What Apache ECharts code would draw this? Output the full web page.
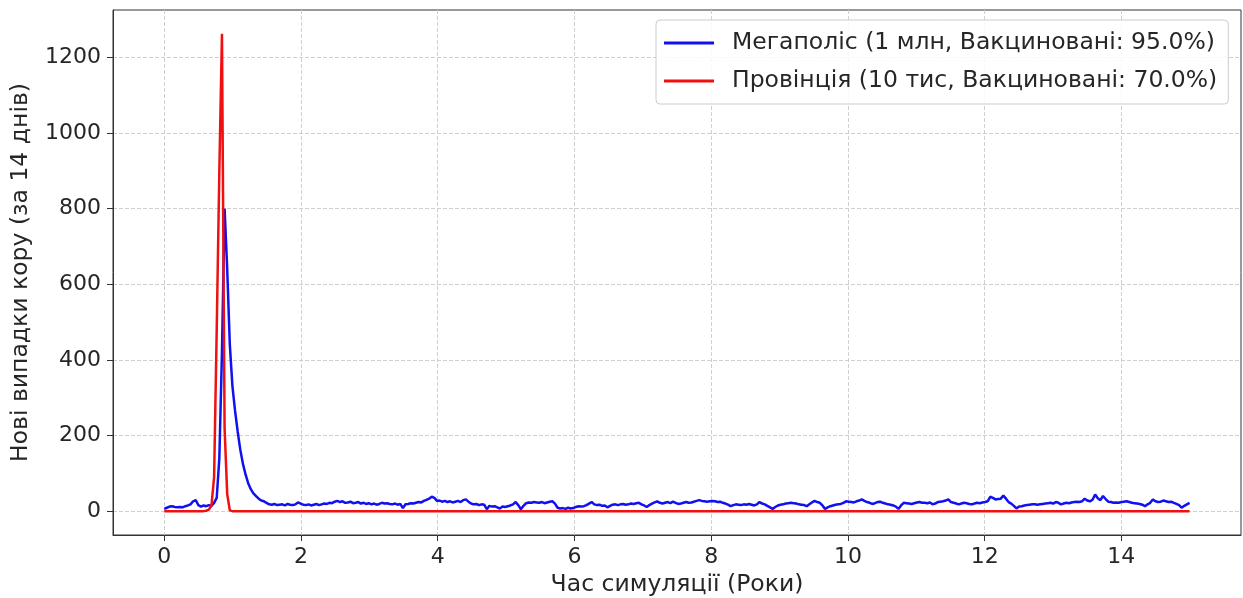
<!DOCTYPE html>
<html>
<head>
<meta charset="utf-8">
<title>Нові випадки кору</title>
<script src="https://cdn.jsdelivr.net/npm/echarts@6/dist/echarts.min.js"></script>
<style>
  html, body { margin: 0; padding: 0; background: #ffffff; }
  #chart { width: 1243px; height: 598px; }
</style>
</head>
<body>
<div id="chart"></div>
<script>
// Sampling step of the simulation output, in days
const stepDays = 14;

// New measles cases per 14-day step, metropolis (1M people, 95% vaccinated)
const metropolisCases = [
  6, 9, 12, 13, 11, 10, 11, 10, 13, 15,
  18, 26, 29, 16, 12, 15, 13, 16, 14, 22,
  35, 140, 420, 800, 640, 440, 330, 265, 210, 162,
  125, 97, 74, 58, 47, 40, 33, 28, 26, 22,
  18, 17, 19, 16, 17, 18, 15, 19, 17, 16,
  18, 23, 20, 17, 16, 18, 15, 17, 19, 16,
  18, 20, 19, 22, 21, 25, 27, 24, 26, 22,
  23, 25, 21, 22, 24, 20, 22, 19, 21, 18,
  20, 17, 19, 22, 20, 21, 19, 18, 20, 17,
  19, 8, 18, 19, 21, 20, 22, 24, 23, 27,
  30, 33, 38, 35, 27, 28, 25, 27, 24, 26,
  23, 25, 27, 24, 29, 31, 25, 20, 18, 19,
  16, 18, 17, 5, 14, 12, 13, 10, 7, 12,
  11, 13, 15, 18, 24, 16, 5, 14, 21, 23,
  22, 24, 23, 22, 24, 21, 23, 25, 26, 20,
  9, 7, 8, 6, 9, 7, 8, 11, 13, 12,
  13, 16, 20, 24, 18, 16, 17, 14, 15, 10,
  14, 17, 18, 16, 18, 19, 17, 18, 20, 19,
  21, 22, 18, 15, 11, 16, 20, 23, 26, 22,
  20, 22, 24, 21, 25, 22, 19, 20, 22, 24,
  22, 23, 25, 27, 29, 27, 26, 25, 26, 27,
  26, 24, 25, 22, 20, 17, 13, 16, 18, 17,
  16, 18, 17, 19, 17, 15, 18, 24, 20, 18,
  14, 10, 6, 11, 15, 17, 18, 20, 21, 22,
  21, 20, 18, 17, 16, 13, 18, 23, 27, 24,
  22, 15, 6, 10, 13, 15, 17, 18, 19, 22,
  26, 25, 24, 23, 26, 28, 31, 27, 24, 22,
  19, 21, 24, 25, 22, 20, 18, 17, 15, 12,
  6, 15, 22, 21, 20, 19, 21, 23, 24, 22,
  22, 21, 23, 18, 20, 24, 25, 26, 28, 31,
  24, 22, 20, 18, 20, 22, 21, 19, 18, 20,
  22, 21, 23, 24, 26, 38, 35, 31, 32, 33,
  41, 33, 24, 20, 14, 7, 12, 13, 15, 16,
  17, 18, 18, 17, 18, 19, 20, 21, 22, 20,
  24, 22, 18, 20, 22, 21, 23, 24, 25, 24,
  26, 33, 28, 26, 30, 44, 34, 29, 40, 32,
  25, 24, 22, 23, 22, 24, 25, 26, 24, 22,
  21, 20, 19, 17, 13, 18, 22, 31, 26, 24,
  25, 28, 26, 24, 25, 22, 19, 16, 9, 14,
  18, 22
];

// New measles cases per 14-day step, province (10k people, 70% vaccinated)
const provinceCases = [
  0, 0, 0, 0, 0, 0, 0, 0, 0, 0,
  0, 0, 0, 0, 0, 0, 1, 4, 15, 90,
  480, 900, 1262, 220, 45, 2
];

const seriesNames = [
  'Мегаполіс (1 млн, Вакциновані: 95.0%)',
  'Провінція (10 тис, Вакциновані: 70.0%)'
];
const xTicks = [0, 2, 4, 6, 8, 10, 12, 14];
const yTicks = [0, 200, 400, 600, 800, 1000, 1200];
const xTitle = 'Час симуляції (Роки)';
const yTitle = 'Нові випадки кору (за 14 днів)';

// Pair each value with its time in years; the province run stays at zero
// after the outbreak, so it is padded to the full simulation length.
function toPoints(values, length) {
  const pts = [];
  for (let i = 0; i < length; i++) {
    const v = i < values.length ? values[i] : 0;
    pts.push([i * stepDays / 365, v]);
  }
  return pts;
}
const nSteps = metropolisCases.length;

const font = 'DejaVu Sans';
const textColor = '#262626';
const gridLine = { show: true, lineStyle: { color: '#cfcfcf', width: 1, type: [4, 2] } };
const plainNumber = v => String(v);

const chart = echarts.init(document.getElementById('chart'), null, { renderer: 'canvas' });
chart.setOption({
  animation: false,
  backgroundColor: '#ffffff',
  textStyle: { fontFamily: font },
  grid: {
    left: 113, right: 2, top: 10, bottom: 63,
    containLabel: false,
    outerBoundsMode: 'none',
    show: true, borderColor: '#333333', borderWidth: 1, backgroundColor: 'transparent'
  },
  legend: {
    orient: 'vertical',
    left: 656, top: 20,
    padding: [9, 11, 9, 8],
    itemGap: 10,
    itemWidth: 50, itemHeight: 3,
    icon: 'rect',
    backgroundColor: 'rgba(255,255,255,0.85)',
    borderColor: '#cccccc', borderWidth: 1, borderRadius: 4,
    textStyle: { fontFamily: font, fontSize: 23.5, color: textColor, padding: [0, 0, 0, 13], lineHeight: 28 },
    data: seriesNames
  },
  xAxis: {
    type: 'value',
    min: -0.75, max: 15.75,
    name: xTitle,
    nameLocation: 'middle',
    nameGap: 36,
    nameTextStyle: { fontFamily: font, fontSize: 23.5, color: textColor },
    axisLine: { show: true, onZero: false, lineStyle: { color: '#333333', width: 1 } },
    axisTick: { show: true, inside: false, length: 6, lineStyle: { color: '#333333' }, customValues: xTicks },
    axisLabel: { fontFamily: font, fontSize: 22, color: textColor, margin: 11, customValues: xTicks, formatter: plainNumber },
    splitLine: gridLine
  },
  yAxis: {
    type: 'value',
    min: -63.1, max: 1325,
    name: yTitle,
    nameLocation: 'middle',
    nameGap: 80,
    nameTextStyle: { fontFamily: font, fontSize: 23.5, color: textColor },
    axisLine: { show: true, onZero: false, lineStyle: { color: '#333333', width: 1 } },
    axisTick: { show: true, inside: false, length: 6, lineStyle: { color: '#333333' }, customValues: yTicks },
    axisLabel: { fontFamily: font, fontSize: 22, color: textColor, margin: 12, customValues: yTicks, formatter: plainNumber },
    splitLine: gridLine
  },
  series: [
    {
      name: seriesNames[0],
      type: 'line',
      data: toPoints(metropolisCases, nSteps),
      showSymbol: false,
      symbol: 'none',
      color: '#1010f0',
      lineStyle: { color: '#1010f0', width: 2.5 },
      z: 2
    },
    {
      name: seriesNames[1],
      type: 'line',
      data: toPoints(provinceCases, nSteps),
      showSymbol: false,
      symbol: 'none',
      color: '#f01010',
      lineStyle: { color: '#f01010', width: 2.5 },
      z: 3
    }
  ]
});
</script>
</body>
</html>
